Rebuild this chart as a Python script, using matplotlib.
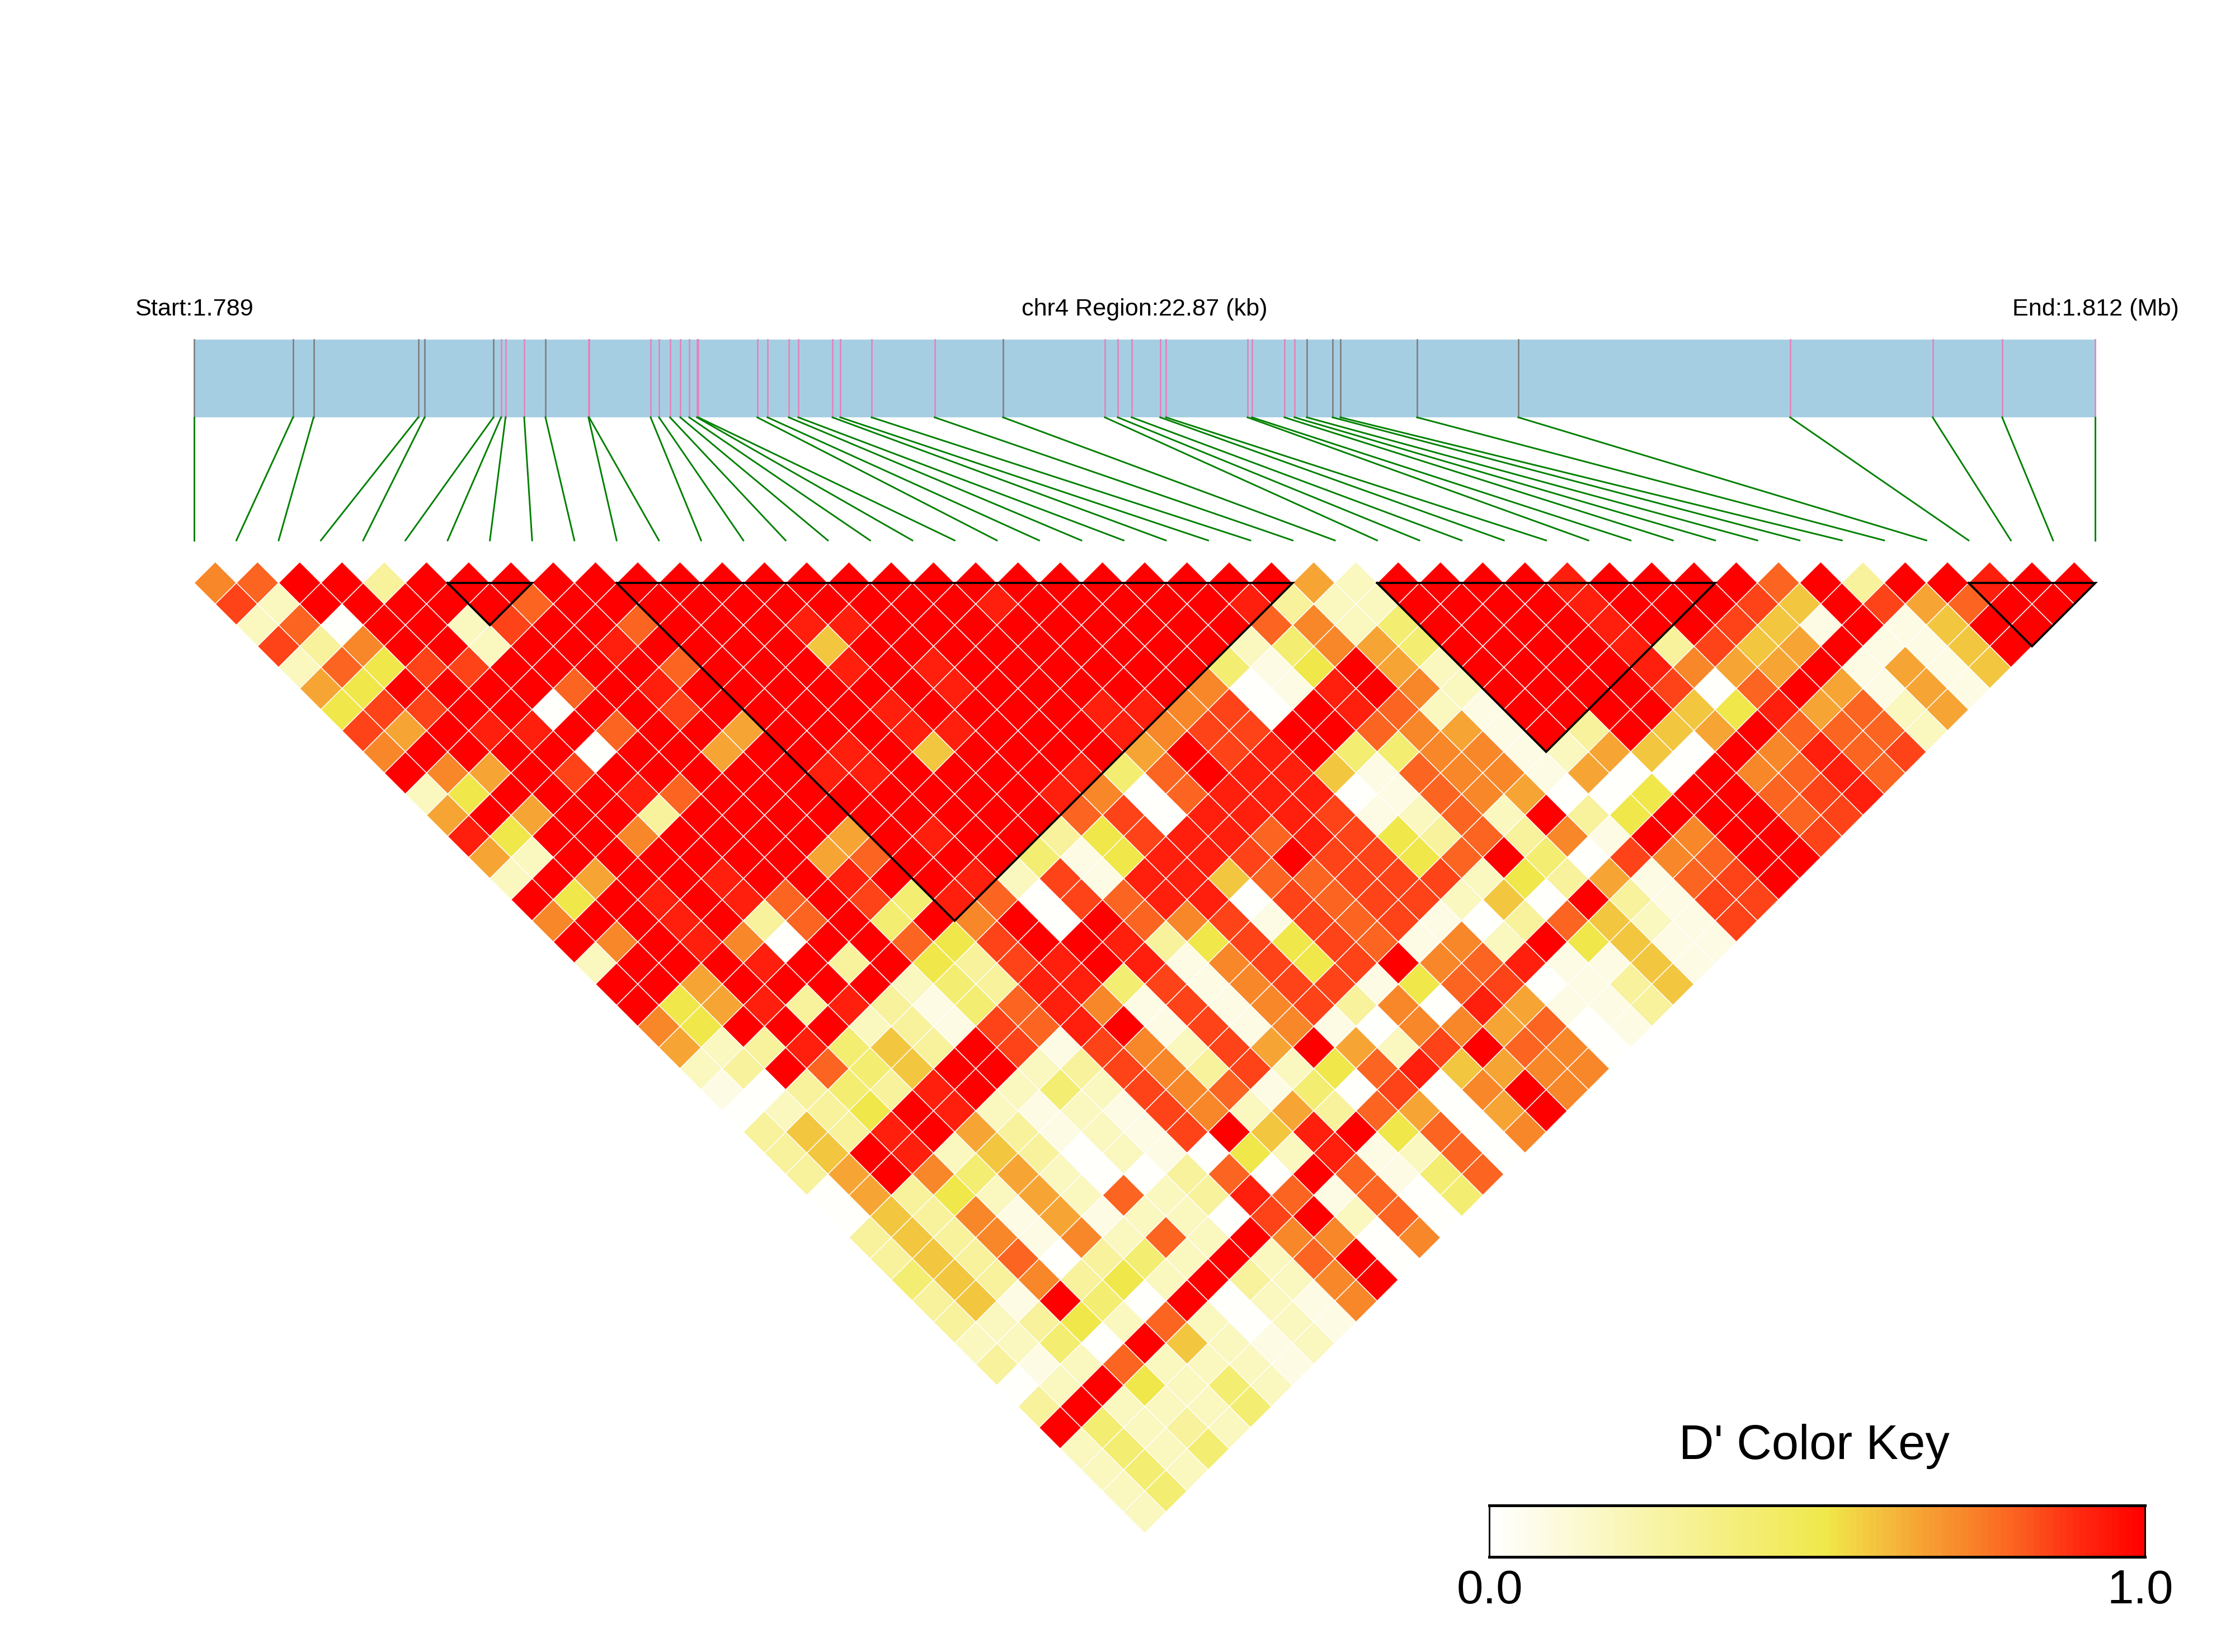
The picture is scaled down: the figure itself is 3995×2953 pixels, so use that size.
import numpy as np
import matplotlib
matplotlib.use("Agg")
import matplotlib.pyplot as plt
from matplotlib.collections import PolyCollection
from matplotlib.colors import LinearSegmentedColormap

plt.rcParams['font.family'] = ['Liberation Sans', 'DejaVu Sans']

# SNP positions, kb from region start
SNP_KB = [0, 1.189, 1.437, 2.696, 2.772, 3.600, 3.692, 3.746, 3.970, 4.226, 4.743, 4.751,
          5.491, 5.592, 5.724, 5.848, 5.955, 6.048, 6.063, 6.774, 6.897, 7.153, 7.267,
          7.678, 7.772, 8.149, 8.907, 9.730, 10.955, 11.110, 11.278, 11.621, 11.689,
          12.671, 12.724, 13.115, 13.236, 13.384, 13.694, 13.788, 14.710, 15.928,
          19.198, 20.913, 21.749, 22.87]
# 1 = pink tick in the gene bar, 0 = grey tick
SNP_PINK = [0, 0, 0, 0, 0, 0, 1, 1, 1, 0, 1, 1, 1, 1, 1, 1, 1, 1, 1, 1, 1, 1, 1,
            1, 1, 1, 1, 0, 1, 1, 1, 1, 1, 1, 1, 1, 1, 0, 0, 0, 0, 0, 1, 1, 1, 1]
REGION_KB = 22.87

# D' per cell, one string per horizontal row of the triangle, read by eye
LEVELS = {'0': 0.01, '1': 0.088, '2': 0.18, '3': 0.287, '4': 0.406, '5': 0.514, '6': 0.585,
          '7': 0.655, '8': 0.72, '9': 0.79, 'a': 0.855, 'b': 0.925, 'c': 1.0}
DPRIME_ROWS = [
    "89cc3ccccccccccccccccccccc72ccccbcccc9c3ccbcc",
    "a2ccccc9" + "cccccccccc" + "b" + "ccccc" + "b" + "322" + "cccc" + "b" + "ccc" + "a6ca79cc",
    "290cc2acc9ccc" + "bb" + "ccccccccc" + "9824" + "cccc" + "b" + "cc" + "a61c16cc",
    "a38cc2ccbcccc" + "6" + "ccccccccc" + "2487" + "4" + "cccc" + "b" + "3a67c116c",
    "295aacccc9ccc" + "bcb" + "cccccc" + "415c72" + "cccc" + "b877c1716",
    "75cccc9cbccc" + "cccb" + "ccccc" + "801bc" + "82" + "cccc" + "a09c7171",
    "5aacc0cca" + "ccccb" + "cccc" + "bb" + "8a0cb" + "921" + "cccc" + "65b7927",
    "a7cbbc9cc7c" + "ccbb" + "cccb" + "8aacc9" + "871c3c67c9992",
    "8cccc0cc7c" + "cbc6" + "cccc" + "7cabc" + "448812" + "760c8b9a",
    "c87caccccc" + "bb" + "cccc" + "b49c" + "bb" + "61988" + "17" + "00" + "c89b9",
    "25cccb9cc" + "cccccc" + "b809" + "bbb" + "01987" + "00" + "5cc9ab",
    "7c7cc3ccc" + "cccccc" + "9a0" + "bbb" + "a129" + "2c35" + "ccc9a",
    "b5cc8ccc" + "c7cb" + "cc35a" + "bb9ba" + "539381" + "c8cca",
    "72cccccc" + "79ccc415" + "bbac" + "aa59c40a89" + "cc",
    "2c7ccbc" + "cbccb2a1" + "bb699" + "aaa253719ac",
    "c5cbcb9" + "ca4b90a9" + "bb0a9" + "aa260c31aa",
    "8ccbc39c4c8c0c98a1a9a1039621a",
    "c8cb80cc95accb35a5a9182c5611",
    "2cccbc3c53abcb18a5ac89b1161",
    "cc7cccc243bb4a18aa159a0136",
    "c57b3b3149b81a18a380b7113",
    "85ccc231a9bc1a1810887901",
    "723b463ca1a82a7c72ac980",
    "23c946cc23a83a259b6788",
    "10343bc242a89140a08c8",
    "0235cb2121a82739707c",
    "363bc73121ac6bc5908",
    "36cb263021052b1290",
    "37c847200390c9149",
    "0735272923b91904",
    "0638171220ac290",
    "363818292c8808",
    "36390342c29c0",
    "4638352c328c",
    "361c40c0218",
    "3235292021",
    "2240c6212",
    "31292221",
    "02c5242",
    "3c2224",
    "c4232",
    "2424",
    "242",
    "24",
    "2",
]
# first and last SNP of each haplotype block
BLOCKS = [(6, 8), (10, 26), (28, 36), (42, 45)]

KEY_VALUES = [0, 0.514, 0.585, 0.667, 0.743, 0.82, 0.895, 0.97, 1]
KEY_COLORS = ['#FFFFFF', '#F0E84A', '#F3C640', '#F6A033', '#F98028', '#FC5A1E', '#FF2E12', '#FF0D04', '#FF0000']

W, H = 3995, 2953
n_snp = len(SNP_KB)
px_x = 75.52  # pixels per SNP step
px_y = 37.75  # pixels per triangle row
left_px, row0_px = 347, 1042

cmap = LinearSegmentedColormap.from_list('dprime', list(zip(KEY_VALUES, KEY_COLORS)), N=100)

fig = plt.figure(figsize=(W / 300, H / 300), dpi=300)
ax = fig.add_axes([0, 0, 1, 1])
ax.set_xlim(-left_px / px_x, (W - left_px) / px_x)
ax.set_ylim(-(H - row0_px) / px_y, row0_px / px_y)
ax.axis('off')

verts = []
values = []
for k, row in enumerate(DPRIME_ROWS):
    assert len(row) == n_snp - 1 - k, (k, len(row))
    for m, code in enumerate(row):
        cx = m + (k + 1) / 2
        verts.append([(cx - 0.5, -k), (cx, 1 - k), (cx + 0.5, -k), (cx, -1 - k)])
        values.append(LEVELS[code])
cells = PolyCollection(verts, array=np.array(values), cmap=cmap, edgecolors='white', linewidths=0.35)
cells.set_clim(0, 1)
ax.add_collection(cells)

for a, b in BLOCKS:
    ax.plot([a, b, (a + b) / 2, a], [0, 0, -(b - a), 0], color='black', lw=0.9, solid_joinstyle='miter')

# gene bar and the lines down to the triangle
bar_top = (row0_px - 607) / px_y
bar_bottom = (row0_px - 746) / px_y
line_end = (row0_px - 966) / px_y
snp_x = np.array(SNP_KB) / REGION_KB * (n_snp - 1)
ax.fill_between([0, n_snp - 1], bar_bottom, bar_top, color='#A6CEE3', lw=0)
for i, x in enumerate(snp_x):
    ax.plot([x, x], [bar_bottom, bar_top], color='#E285BC' if SNP_PINK[i] else '#808080', lw=0.65)
    ax.plot([x, i], [bar_bottom, line_end], color='#008000', lw=0.7)

label_y = (row0_px - 564) / px_y
ax.text(0, label_y, "Start:1.789", ha='center', va='baseline', fontsize=10.4)
ax.text((n_snp - 1) / 2, label_y, "chr4 Region:22.87 (kb)", ha='center', va='baseline', fontsize=10.4)
ax.text(n_snp - 1, label_y, "End:1.812 (Mb)", ha='center', va='baseline', fontsize=10.4)

# colour key
cax = fig.add_axes([2662 / W, 1 - 2783 / H, (3834 - 2662) / W, 92 / H])
edges = np.linspace(0, 1, 101)
cax.pcolormesh(edges, [0, 1], ((edges[:-1] + edges[1:]) / 2)[None, :], cmap=cmap, vmin=0, vmax=1)
cax.set_yticks([])
cax.set_xticks([0.001, 0.993])
cax.set_xticklabels(['0.0', '1.0'])
cax.tick_params(axis='x', length=0, labelsize=20.5, pad=5)
for side in ['top', 'bottom']:
    cax.spines[side].set_linewidth(1.2)
for side in ['left', 'right']:
    cax.spines[side].set_linewidth(0.7)
cax.set_title("D' Color Key", fontsize=20.8, pad=20, x=0.496)

fig.savefig('out.png', dpi=300)
